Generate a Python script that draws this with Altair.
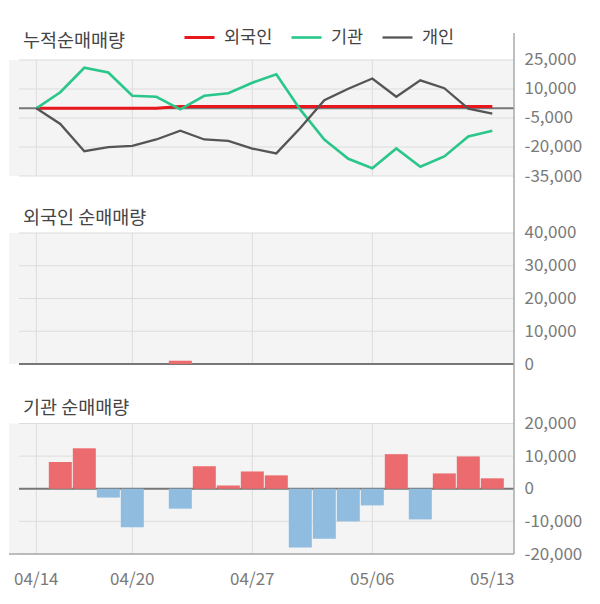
import altair as alt
import pandas as pd

FONT = "Noto Sans CJK KR"

# trading days shown on the x axis
dates = ["04/14", "04/15", "04/16", "04/19", "04/20", "04/21", "04/22", "04/23",
         "04/26", "04/27", "04/28", "04/29", "04/30", "05/03", "05/06", "05/07",
         "05/10", "05/11", "05/12", "05/13"]
date_ticks = [0, 4, 9, 14, 19]
grid_days = [0, 4, 9, 14]

series_names = ["외국인", "기관", "개인"]
series_colors = ["#e8161d", "#2bc78a", "#555555"]

# cumulative net buying
foreign_cum = [0, 0, 0, 0, 0, 0, 900, 900, 900, 900,
               900, 900, 900, 900, 900, 900, 900, 900, 900, 900]
inst_cum = [0, 8300, 21000, 18500, 6500, 6000, -500, 6500, 7800, 13200,
            17600, -700, -16200, -26100, -31000, -20800, -30200, -24900, -14600, -11600]
indiv_cum = [0, -8100, -22200, -20100, -19400, -16100, -11600, -16100, -16800, -20800,
             -23300, -10200, 4200, 10100, 15400, 6000, 14500, 10400, -200, -2800]

# daily net buying
foreign_daily = [0, 0, 0, 0, 0, 0, 1000, 0, 0, 0,
                 0, 0, 0, 0, 0, 0, 0, 0, 0, 0]
inst_daily = [0, 8200, 12400, -2700, -11800, 0, -6100, 6900, 1000, 5300,
              4100, -18000, -15300, -10000, -5100, 10600, -9400, 4700, 9900, 3200]

cum_ticks = [25000, 10000, -5000, -20000, -35000]
foreign_ticks = [40000, 30000, 20000, 10000, 0]
inst_ticks = [20000, 10000, 0, -10000, -20000]

W = 505
X_DOMAIN = [-1.1375, 19.904]
BG = "#f4f4f4"
GRID = "#dddddd"
ZERO = "#777777"
AXIS = "#aaaaaa"
LABEL = "#7a7a7a"
POS = "#ec6b6e"
NEG = "#90bcdf"

Y_LABELS = "(datum.value < 0 ? '-' : '') + format(abs(datum.value), ',')"


def panel(height, ydom, ticks, top, bottom, title, title_y, marks, line_top, line_bottom):
    """One stacked panel: grey frame, grid, right axis and its own marks"""
    ysc = alt.Scale(domain=ydom, nice=False, zero=False, padding=0)
    yax = alt.Axis(values=ticks, orient="right", labelExpr=Y_LABELS, grid=False,
                   ticks=False, domain=False, labelPadding=10, labelFont=FONT,
                   labelFontSize=17, labelColor=LABEL, title=None)
    # no continuous padding, bars would otherwise squeeze the day positions
    xsc = alt.Scale(domain=X_DOMAIN, nice=False, zero=False, padding=0)

    def x(field):
        return alt.X(field, scale=xsc, axis=None, title=None)

    def y(field):
        return alt.Y(field, scale=ysc, axis=yax, title=None)

    bg = alt.Chart(pd.DataFrame({"top": [top], "bottom": [bottom]})).mark_rect(
        color=BG
    ).encode(x=alt.value(0), x2=alt.value(W), y=y("top:Q"), y2="bottom:Q")

    hgrid = alt.Chart(pd.DataFrame({"v": [t for t in ticks if t != 0]})).mark_rule(
        color=GRID, strokeWidth=1
    ).encode(x=alt.value(10), x2=alt.value(W), y=y("v:Q"))

    vgrid = alt.Chart(pd.DataFrame({"i": grid_days, "top": top, "bottom": bottom})).mark_rule(
        color=GRID, strokeWidth=1
    ).encode(x=x("i:Q"), y=y("top:Q"), y2="bottom:Q")

    zero = alt.Chart(pd.DataFrame({"v": [0]})).mark_rule(
        color=ZERO, strokeWidth=2
    ).encode(x=alt.value(10), x2=alt.value(W), y=y("v:Q"))

    # right axis line, continuous from panel to panel
    edge = alt.Chart(pd.DataFrame({"a": [0]})).mark_rule(
        color=AXIS, strokeWidth=1.5
    ).encode(x=alt.value(W), y=alt.value(line_top), y2=alt.value(line_bottom))

    label = alt.Chart(pd.DataFrame({"t": [title]})).mark_text(
        align="left", baseline="middle", font=FONT, fontSize=18.5, color="#444444"
    ).encode(x=alt.value(14), y=alt.value(title_y), text="t:N")

    layers = [bg, hgrid, vgrid, zero] + [m(x, y) for m in marks] + [edge, label]
    return alt.layer(*layers).properties(width=W, height=height)


def cum_lines(x, y):
    rows = []
    for name, vals in zip(series_names, [foreign_cum, inst_cum, indiv_cum]):
        for i, v in enumerate(vals):
            rows.append({"i": i, "v": v, "s": name})
    df = pd.DataFrame(rows)
    return alt.Chart(df).mark_line().encode(
        x=x("i:Q"),
        y=y("v:Q"),
        color=alt.Color(
            "s:N", scale=alt.Scale(domain=series_names, range=series_colors),
            legend=alt.Legend(
                orient="none", legendX=174, legendY=13, direction="horizontal",
                title=None, symbolType="stroke", symbolSize=900,
                symbolStrokeWidth=4, labelFont=FONT, labelFontSize=17.5,
                labelColor="#444444", labelOffset=8, columnPadding=13
            )
        ),
        strokeWidth=alt.StrokeWidth(
            "s:N", scale=alt.Scale(domain=series_names, range=[3, 2.3, 2.3]),
            legend=None
        ),
        order=alt.Order("i:Q")
    )


def bars(values):
    def make(x, y):
        df = pd.DataFrame({"i": range(len(values)), "v": values})
        return alt.Chart(df).mark_bar(size=23).encode(
            x=x("i:Q"),
            y=y("v:Q"),
            color=alt.condition("datum.v >= 0", alt.value(POS), alt.value(NEG))
        )
    return make


def bottom_axis(x, y):
    # darker frame edge under the last panel plus the date labels
    base = alt.Chart(pd.DataFrame({"v": [-20000]})).mark_rule(
        color=AXIS, strokeWidth=1.5
    ).encode(x=alt.value(0), x2=alt.value(W), y=y("v:Q"))
    df = pd.DataFrame({"i": date_ticks, "d": [dates[i] for i in date_ticks]})
    text = alt.Chart(df).mark_text(
        baseline="middle", font=FONT, fontSize=17, color=LABEL
    ).encode(x=x("i:Q"), y=alt.value(216), text="d:N")
    return alt.layer(base, text)


p1 = panel(168, [-35000, 51896], cum_ticks, 25000, -35000, "누적순매매량", 33,
           [cum_lines], 25, 168)
p2 = panel(188, [0, 57404], foreign_ticks, 40000, 0, "외국인 순매매량", 42,
           [bars(foreign_daily)], 0, 188)
p3 = panel(232, [-32873, 38237], inst_ticks, 20000, -20000, "기관 순매매량", 44,
           [bars(inst_daily), bottom_axis], 0, 190)

chart = alt.vconcat(p1, p2, p3, spacing=0, bounds="flush").properties(
    padding=0
).configure_view(strokeWidth=0)

chart.save("out.html", embed_options={"renderer": "svg", "actions": False})
